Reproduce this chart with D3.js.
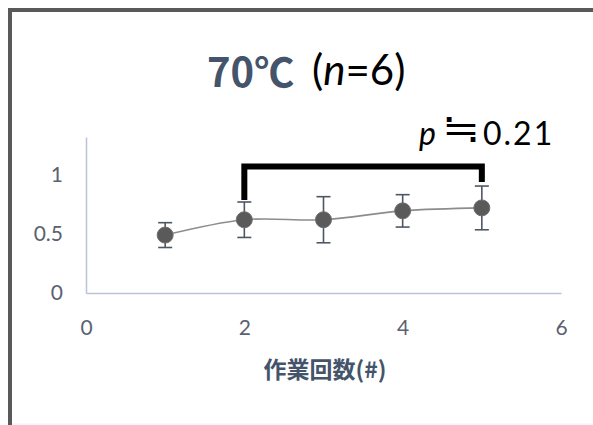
<!DOCTYPE html>
<html>
<head>
<meta charset="utf-8">
<script src="https://cdn.jsdelivr.net/npm/d3@7"></script>
<style>
  html, body { margin: 0; padding: 0; background: #ffffff; }
  svg { display: block; }
</style>
</head>
<body>
<script>
// Working count vs. measured value at 70℃ (mean ± SD, n = 6)
const sessions = [1, 2, 3, 4, 5];
const means    = [0.49, 0.62, 0.62, 0.695, 0.72];
const errors   = [0.105, 0.15, 0.195, 0.137, 0.185];
const xTicks   = [0, 2, 4, 6];
const yTicks   = [0, 0.5, 1];
const yTickLabels = ["0", "0.5", "1"];
// significance bracket between session 2 and 5
const bracketFrom = 2, bracketTo = 5, bracketLevel = 1.07;
const pLabel = "0.21";

const W = 593, H = 425;
const svg = d3.select("body").append("svg").attr("width", W).attr("height", H);

// outer frame
svg.append("rect").attr("x", 0).attr("y", 0).attr("width", W).attr("height", H).attr("fill", "#fff");
svg.append("line").attr("x1", 10).attr("x2", W).attr("y1", 10).attr("y2", 10)
  .attr("stroke", "#595959").attr("stroke-width", 4);
svg.append("line").attr("x1", 10).attr("x2", 10).attr("y1", 8).attr("y2", H)
  .attr("stroke", "#595959").attr("stroke-width", 4);
svg.append("line").attr("x1", 12).attr("x2", W).attr("y1", 424).attr("y2", 424)
  .attr("stroke", "#eef0f3").attr("stroke-width", 1);

const x = d3.scaleLinear().domain([0, 6]).range([86, 561]);
const y = d3.scaleLinear().domain([0, 1.32]).range([293, 137]);

const axisColor = "#b8c3d6";
const tickColor = "#5a6271";
const latin = "Lato, 'Noto Sans', sans-serif";

// axes (lines only, labels drawn by the axis generators)
const xAxis = svg.append("g").attr("transform", `translate(0,${y(0)})`)
  .call(d3.axisBottom(x).tickValues(xTicks).tickSize(0).tickPadding(27).tickFormat(d3.format("d")));
xAxis.select(".domain").attr("stroke", axisColor).attr("stroke-width", 1.5);
xAxis.selectAll("text").attr("fill", tickColor).style("font-family", latin).style("font-size", "21px");

const yAxis = svg.append("g").attr("transform", `translate(${x(0)},0)`)
  .call(d3.axisLeft(y).tickValues(yTicks).tickSize(0).tickPadding(23).tickFormat((d, i) => yTickLabels[i]));
yAxis.select(".domain").attr("stroke", axisColor).attr("stroke-width", 1.5);
yAxis.selectAll("text").attr("fill", tickColor).style("font-family", latin).style("font-size", "21px");

const pts = sessions.map((s, i) => ({ s, m: means[i], e: errors[i] }));

// smoothed connecting line
svg.append("path")
  .datum(pts)
  .attr("fill", "none")
  .attr("stroke", "#8c8c8c")
  .attr("stroke-width", 1.6)
  .attr("d", d3.line().x(d => x(d.s)).y(d => y(d.m)).curve(d3.curveCardinal.tension(0)));

// error bars
const eb = svg.append("g").attr("stroke", "#4e5666").attr("stroke-width", 1.6).attr("fill", "none");
pts.forEach(d => {
  const cx = x(d.s);
  eb.append("line").attr("x1", cx).attr("x2", cx).attr("y1", y(d.m + d.e)).attr("y2", y(d.m - d.e));
  eb.append("line").attr("x1", cx - 7).attr("x2", cx + 7).attr("y1", y(d.m + d.e)).attr("y2", y(d.m + d.e));
  eb.append("line").attr("x1", cx - 7).attr("x2", cx + 7).attr("y1", y(d.m - d.e)).attr("y2", y(d.m - d.e));
});

// markers
svg.append("g").selectAll("circle").data(pts).join("circle")
  .attr("cx", d => x(d.s)).attr("cy", d => y(d.m)).attr("r", 8)
  .attr("fill", "#5a5a5a").attr("stroke", "#707070").attr("stroke-width", 1);

// significance bracket
const pFrom = pts.find(d => d.s === bracketFrom), pTo = pts.find(d => d.s === bracketTo);
svg.append("path")
  .attr("fill", "none").attr("stroke", "#000").attr("stroke-width", 6).attr("stroke-linejoin", "miter")
  .attr("d", d3.line()([
    [x(bracketFrom), y(pFrom.m + pFrom.e) - 2],
    [x(bracketFrom), y(bracketLevel)],
    [x(bracketTo), y(bracketLevel)],
    [x(bracketTo), y(pTo.m + pTo.e) - 4]
  ]));

// p value: italic p, the ≒ sign, then the value
const pGroup = svg.append("g").attr("fill", "#000").style("font-family", latin).style("font-size", "32px");
pGroup.append("text").attr("x", 419).attr("y", 145).style("font-style", "italic").text("p");
pGroup.append("text").attr("transform", "translate(461,142) scale(1.25,1.1)").attr("text-anchor", "middle")
  .style("font-family", "'Noto Sans CJK JP', sans-serif").style("font-size", "36px").text("≒");
pGroup.append("text").attr("x", 483).attr("y", 145).style("letter-spacing", "2px").text(pLabel);

// title
svg.append("text").attr("x", 207).attr("y", 87)
  .style("font-family", "'Noto Sans CJK JP', sans-serif").style("font-weight", "bold").style("font-size", "40px")
  .attr("fill", "#44546a").text("70℃");
const tt = svg.append("text").attr("x", 312).attr("y", 85)
  .style("font-family", latin).style("font-size", "42px").attr("fill", "#000");
tt.append("tspan").text("(");
tt.append("tspan").style("font-style", "italic").text("n");
tt.append("tspan").text("=6)");

// x-axis title
svg.append("text").attr("x", 325).attr("y", 378).attr("text-anchor", "middle")
  .style("font-family", "'Noto Sans CJK JP', sans-serif").style("font-weight", "bold").style("font-size", "23px")
  .attr("fill", "#44546a").text("作業回数(#)");
</script>
</body>
</html>
